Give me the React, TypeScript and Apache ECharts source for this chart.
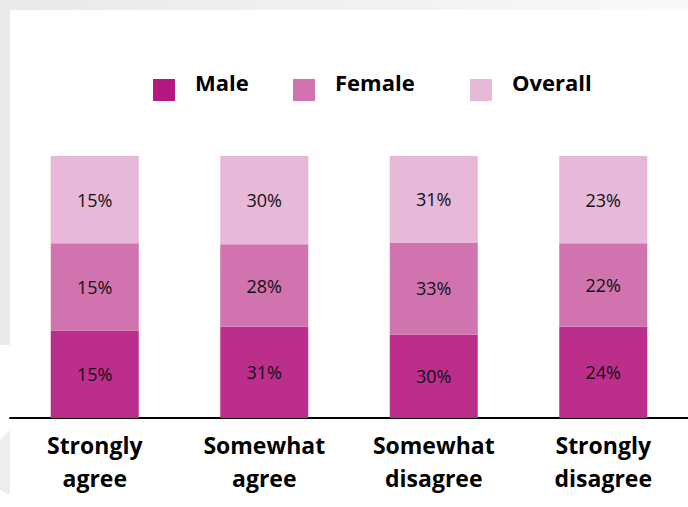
import React, { useEffect, useRef } from "react";
import * as echarts from "echarts";

const categories = ["Strongly\nagree", "Somewhat\nagree", "Somewhat\ndisagree", "Strongly\ndisagree"];
const seriesNames = ["Male", "Female", "Overall"];
const male = [15, 31, 30, 24];
const female = [15, 28, 33, 22];
const overall = [15, 30, 31, 23];
const colors = ["#bc2e8c", "#d173ae", "#e8b8d8"];
const legendColors = ["#b5197f", "#d173ae", "#e8b8d8"];
const legendLefts = [153, 293, 470];

export default function App() {
  const ref = useRef<HTMLDivElement>(null);
  useEffect(() => {
    if (!ref.current) return;
    const chart = echarts.init(ref.current, null, { renderer: "svg" });
    const raw = [male, female, overall];
    const totals = categories.map((_, i) => male[i] + female[i] + overall[i]);
    const series = raw.map((vals, si) => ({
      name: seriesNames[si],
      type: "bar",
      stack: "total",
      barWidth: 88,
      itemStyle: { color: colors[si] },
      data: vals.map((v, i) => ({ value: (v / totals[i]) * 100, raw: v })),
      label: {
        show: true,
        position: "inside",
        color: "#111",
        fontFamily: "Open Sans",
        fontSize: 18,
        formatter: (p: any) => `${p.data.raw}%`,
      },
    }));
    chart.setOption({
      animation: false,
      backgroundColor: "transparent",
      graphic: [
        {
          type: "rect",
          z: -10,
          silent: true,
          shape: { x: 0, y: 0, width: 688, height: 10 },
          style: {
            fill: new echarts.graphic.LinearGradient(0, 0, 1, 0, [
              { offset: 0, color: "#e8e9ea" },
              { offset: 1, color: "#f8f9f9" },
            ]),
          },
        },
        {
          type: "rect",
          z: -10,
          silent: true,
          shape: { x: 0, y: 0, width: 10, height: 345 },
          style: { fill: "#e9eaeb" },
        },
        {
          type: "polygon",
          z: -10,
          silent: true,
          shape: { points: [[0, 440], [10, 430], [10, 495], [0, 490]] },
          style: { fill: "#eceded" },
        },
      ],
      legend: seriesNames.map((n, i) => ({
        top: 71,
        left: legendLefts[i],
        padding: 0,
        itemWidth: 22,
        itemHeight: 22,
        icon: "rect",
        data: [{ name: n, itemStyle: { color: legendColors[i] } }],
        formatter: "{t|{name}}",
        textStyle: {
          color: "#000",
          rich: {
            t: {
              fontFamily: "Open Sans",
              fontWeight: "bold",
              fontSize: 22,
              color: "#000",
              padding: [0, 0, 16, 15],
            },
          },
        },
      })),
      grid: { left: 10, right: -2, top: 156, bottom: 89, containLabel: false },
      xAxis: {
        type: "category",
        data: categories,
        axisLine: { lineStyle: { color: "#000", width: 2 } },
        axisTick: { show: false },
        axisLabel: {
          fontFamily: "Open Sans",
          fontWeight: "bold",
          fontSize: 23,
          color: "#000",
          lineHeight: 33,
          margin: 10,
        },
      },
      yAxis: {
        type: "value",
        min: 0,
        max: 100,
        show: false,
        splitLine: { show: false },
      },
      series,
    });
    return () => chart.dispose();
  }, []);
  return (
    <div
      ref={ref}
      style={{ position: "absolute", left: 0, top: 0, width: 688, height: 507, background: "#fff" }}
    />
  );
}
